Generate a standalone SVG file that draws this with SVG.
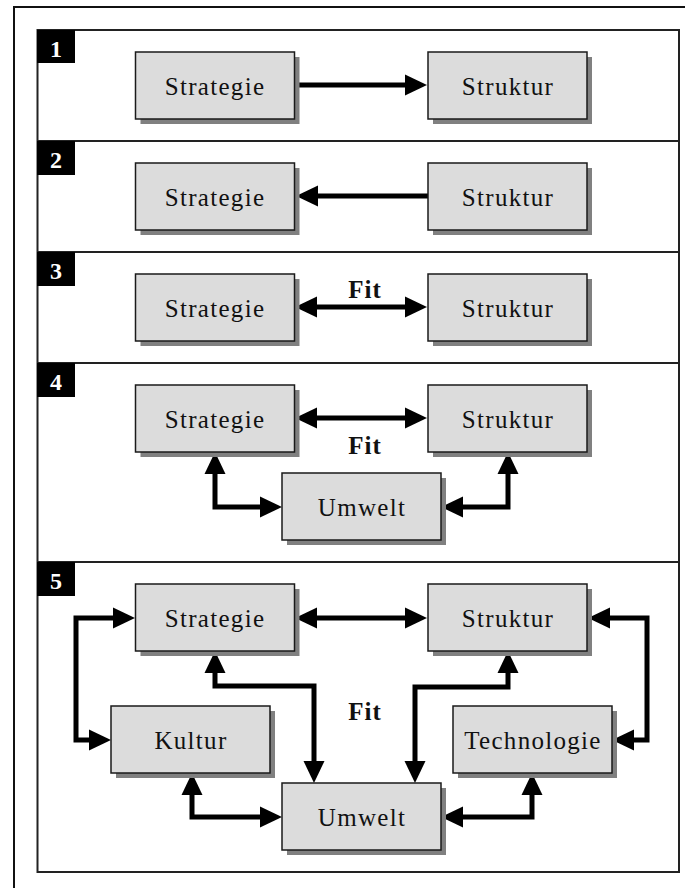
<svg xmlns="http://www.w3.org/2000/svg" width="685" height="888" viewBox="0 0 685 888">
  <style>
    .frame { fill: none; stroke: #111; stroke-width: 2; }
    .panel { fill: #fff; stroke: #222; stroke-width: 2; }
    .divider { stroke: #222; stroke-width: 2; }
    .tag { fill: #000; }
    .tag-num { fill: #fff; font-family: "Liberation Serif", "Times New Roman", serif; font-weight: bold; font-size: 24px; text-anchor: middle; }
    .shadow { fill: #808080; }
    .box { fill: #dcdcdc; stroke: #1a1a1a; stroke-width: 1.5; }
    .label { fill: #111; font-family: "Liberation Serif", "Times New Roman", serif; font-size: 25px; letter-spacing: 1.3px; text-anchor: middle; }
    .fit { fill: #111; font-family: "Liberation Serif", "Times New Roman", serif; font-weight: bold; font-size: 25px; letter-spacing: 1px; text-anchor: middle; }
    .link { fill: none; stroke: #000; stroke-width: 5; stroke-linejoin: miter; }
  </style>
  <defs>
    <marker id="head" markerUnits="userSpaceOnUse" markerWidth="24" markerHeight="24" viewBox="0 -12 24 24" refX="0" refY="0" orient="auto-start-reverse" overflow="visible">
      <path d="M0,-10.5 L22,0 L0,10.5 Z" fill="#000"/>
    </marker>
  </defs>

  <!-- outer frame and panel -->
  <rect class="frame" x="14" y="7" width="700" height="900"/>
  <rect class="panel" x="37.5" y="30" width="641.5" height="842"/>
  <line class="divider" x1="37.5" y1="141" x2="679" y2="141"/>
  <line class="divider" x1="37.5" y1="252" x2="679" y2="252"/>
  <line class="divider" x1="37.5" y1="363" x2="679" y2="363"/>
  <line class="divider" x1="37.5" y1="562" x2="679" y2="562"/>

  <!-- section tags -->
  <g id="tag1"><rect class="tag" x="37" y="30" width="38" height="33"/><text class="tag-num" x="56" y="57">1</text></g>
  <g id="tag2"><rect class="tag" x="37" y="141" width="38" height="34"/><text class="tag-num" x="56" y="168">2</text></g>
  <g id="tag3"><rect class="tag" x="37" y="252" width="38" height="34"/><text class="tag-num" x="56" y="279">3</text></g>
  <g id="tag4"><rect class="tag" x="37" y="363" width="38" height="34"/><text class="tag-num" x="56" y="390">4</text></g>
  <g id="tag5"><rect class="tag" x="37" y="562" width="38" height="34"/><text class="tag-num" x="56" y="589">5</text></g>

  <!-- connectors -->
  <g id="connectors">
    <!-- 1 -->
    <path class="link" d="M295,85 H405" marker-end="url(#head)"/>
    <!-- 2 -->
    <path class="link" d="M428,196 H318" marker-end="url(#head)"/>
    <!-- 3 -->
    <path class="link" d="M317,307 H405" marker-start="url(#head)" marker-end="url(#head)"/>
    <!-- 4 -->
    <path class="link" d="M317,418 H405" marker-start="url(#head)" marker-end="url(#head)"/>
    <path class="link" d="M215,474 V507 H260" marker-start="url(#head)" marker-end="url(#head)"/>
    <path class="link" d="M463,507 H508 V474" marker-start="url(#head)" marker-end="url(#head)"/>
    <!-- 5 -->
    <path class="link" d="M317,618 H405" marker-start="url(#head)" marker-end="url(#head)"/>
    <path class="link" d="M113,618 H76 V740 H89" marker-start="url(#head)" marker-end="url(#head)"/>
    <path class="link" d="M215,673 V686 H314 V761" marker-start="url(#head)" marker-end="url(#head)"/>
    <path class="link" d="M508,673 V687 H415 V761" marker-start="url(#head)" marker-end="url(#head)"/>
    <path class="link" d="M610,618 H647 V740 H634" marker-start="url(#head)" marker-end="url(#head)"/>
    <path class="link" d="M192,795 V817 H260" marker-start="url(#head)" marker-end="url(#head)"/>
    <path class="link" d="M532,795 V817 H463" marker-start="url(#head)" marker-end="url(#head)"/>
  </g>

  <!-- fit labels -->
  <text class="fit" x="365" y="298">Fit</text>
  <text class="fit" x="365" y="454">Fit</text>
  <text class="fit" x="365" y="720">Fit</text>

  <!-- section 1 -->
  <g id="s1-strategie"><rect class="shadow" x="140.5" y="57" width="159" height="67"/><rect class="box" x="135.5" y="52" width="159" height="67"/><text class="label" x="215" y="95">Strategie</text></g>
  <g id="s1-struktur"><rect class="shadow" x="433" y="57" width="159" height="67"/><rect class="box" x="428" y="52" width="159" height="67"/><text class="label" x="508" y="95">Struktur</text></g>

  <!-- section 2 -->
  <g id="s2-strategie"><rect class="shadow" x="140.5" y="168" width="159" height="67"/><rect class="box" x="135.5" y="163" width="159" height="67"/><text class="label" x="215" y="206">Strategie</text></g>
  <g id="s2-struktur"><rect class="shadow" x="433" y="168" width="159" height="67"/><rect class="box" x="428" y="163" width="159" height="67"/><text class="label" x="508" y="206">Struktur</text></g>

  <!-- section 3 -->
  <g id="s3-strategie"><rect class="shadow" x="140.5" y="279" width="159" height="67"/><rect class="box" x="135.5" y="274" width="159" height="67"/><text class="label" x="215" y="317">Strategie</text></g>
  <g id="s3-struktur"><rect class="shadow" x="433" y="279" width="159" height="67"/><rect class="box" x="428" y="274" width="159" height="67"/><text class="label" x="508" y="317">Struktur</text></g>

  <!-- section 4 -->
  <g id="s4-strategie"><rect class="shadow" x="140.5" y="390" width="159" height="67"/><rect class="box" x="135.5" y="385" width="159" height="67"/><text class="label" x="215" y="428">Strategie</text></g>
  <g id="s4-struktur"><rect class="shadow" x="433" y="390" width="159" height="67"/><rect class="box" x="428" y="385" width="159" height="67"/><text class="label" x="508" y="428">Struktur</text></g>
  <g id="s4-umwelt"><rect class="shadow" x="287" y="478" width="159" height="67"/><rect class="box" x="282" y="473" width="159" height="67"/><text class="label" x="362" y="516">Umwelt</text></g>

  <!-- section 5 -->
  <g id="s5-strategie"><rect class="shadow" x="140.5" y="589" width="159" height="67"/><rect class="box" x="135.5" y="584" width="159" height="67"/><text class="label" x="215" y="627">Strategie</text></g>
  <g id="s5-struktur"><rect class="shadow" x="433" y="589" width="159" height="67"/><rect class="box" x="428" y="584" width="159" height="67"/><text class="label" x="508" y="627">Struktur</text></g>
  <g id="s5-kultur"><rect class="shadow" x="116" y="711" width="159" height="67"/><rect class="box" x="111" y="706" width="159" height="67"/><text class="label" x="191" y="749">Kultur</text></g>
  <g id="s5-technologie"><rect class="shadow" x="458" y="711" width="159" height="67"/><rect class="box" x="453" y="706" width="159" height="67"/><text class="label" x="533" y="749">Technologie</text></g>
  <g id="s5-umwelt"><rect class="shadow" x="287" y="788" width="159" height="67"/><rect class="box" x="282" y="783" width="159" height="67"/><text class="label" x="362" y="826">Umwelt</text></g>
</svg>
